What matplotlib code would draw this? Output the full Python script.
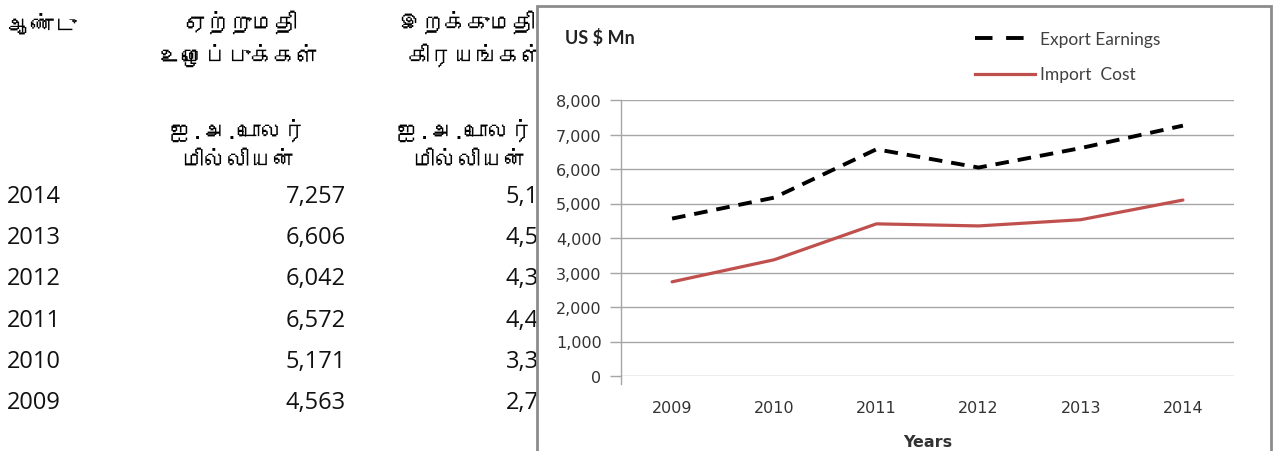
import matplotlib
matplotlib.use("Agg")
import matplotlib.pyplot as plt
from matplotlib import font_manager as fm
from matplotlib.ft2font import FT2Font
from matplotlib.patches import Rectangle
from matplotlib.lines import Line2D
from matplotlib.transforms import Bbox, TransformedBbox

# ---------------- data ----------------
years = [2009, 2010, 2011, 2012, 2013, 2014]
export_earnings = [4563, 5171, 6572, 6042, 6606, 7257]
import_cost = [2730, 3370, 4410, 4350, 4530, 5100]

table_years = ["2014", "2013", "2012", "2011", "2010", "2009"]
table_export = ["7,257", "6,606", "6,042", "6,572", "5,171", "4,563"]
table_import = ["5,100", "4,530", "4,350", "4,410", "3,370", "2,730"]

hdr_year = "ஆண்டு"
hdr_exp = ["ஏற்றுமதி", "உழைப்புக்கள்"]
hdr_imp = ["இறக்குமதிச்", "கிரயங்கள்"]
hdr_unit = ["ஐ.அ.டொலர்", "மில்லியன்"]

series_labels = ["Export Earnings", "Import  Cost"]
y_ticks = [0, 1000, 2000, 3000, 4000, 5000, 6000, 7000, 8000]

# ---------------- find a Tamil-capable font ----------------
tamil_family = None
for f in fm.fontManager.ttflist:
    try:
        cm = FT2Font(f.fname).get_charmap()
        if 0x0B86 in cm and 0x0BA4 in cm:
            tamil_family = f.name
            break
    except Exception:
        pass
tamil_fonts = ([tamil_family] if tamil_family else []) + ["DejaVu Sans"]

W, H = 1283, 452
fig = plt.figure(figsize=(W / 100, H / 100), dpi=100)

def fx(x):
    return x / W

def fy(y):
    return 1 - y / H

# background axes for the table
bg = fig.add_axes([0, 0, 1, 1], zorder=0)
bg.set_xlim(0, W)
bg.set_ylim(H, 0)
bg.axis("off")
clip_table = TransformedBbox(Bbox([[0, 0], [537, H]]), bg.transData)

def clipped(t):
    t.set_clip_on(True)
    t.set_clip_box(clip_table)
    return t

hfs = 16.5
bg.text(8, 25, hdr_year, family=tamil_fonts, fontsize=hfs, fontweight="bold",
        ha="left", va="center")
for i, t in enumerate(hdr_exp):
    bg.text(240, 22 + 33 * i, t, family=tamil_fonts, fontsize=hfs, fontweight="bold",
            ha="center", va="center")
imp_x = [398, 408]
for i, t in enumerate(hdr_imp):
    clipped(bg.text(imp_x[i], 22 + 33 * i, t, family=tamil_fonts, fontsize=hfs,
                    fontweight="bold", ha="left", va="center"))
unit_x3 = [397, 412]
for i, t in enumerate(hdr_unit):
    bg.text(238, 130 + 31 * i, t, family=tamil_fonts, fontsize=hfs, fontweight="bold",
            ha="center", va="center")
    clipped(bg.text(unit_x3[i], 130 + 31 * i, t, family=tamil_fonts, fontsize=hfs,
                    fontweight="bold", ha="left", va="center"))

row_y0, row_dy = 197, 41.2
nfs = 17
for i in range(len(table_years)):
    yy = row_y0 + row_dy * i
    bg.text(7, yy, table_years[i], fontsize=nfs, family="Open Sans",
            ha="left", va="center", color="#111111")
    bg.text(346, yy, table_export[i], fontsize=nfs, family="Open Sans",
            ha="right", va="center", color="#111111")
    clipped(bg.text(566, yy, table_import[i], fontsize=nfs, family="Open Sans",
                    ha="right", va="center", color="#111111"))

# chart panel covering the table
bg.add_patch(Rectangle((537, 7), 734, 460, facecolor="white", edgecolor="#8c8c8c",
                       linewidth=2, zorder=10, clip_on=False))

# ---------------- chart ----------------
left, right = 621, 1234
top, bottom = 101, 377
ax = fig.add_axes([fx(left), fy(bottom), fx(right - left), (bottom - top) / H], zorder=1)
ax.set_facecolor("none")
x = list(range(len(years)))
ax.plot(x, export_earnings, color="black", lw=2.8, dashes=(3.5, 2.3),
        dash_capstyle="butt")
ax.plot(x, import_cost, color="#C0504D", lw=2.3, solid_capstyle="round")
ax.set_xlim(-0.5, len(years) - 0.5)
ax.set_ylim(0, 8000)
ax.set_yticks(y_ticks)
ax.set_yticklabels([f"{v:,}" for v in y_ticks])
ax.set_xticks(x)
ax.set_xticklabels([str(y) for y in years])
ax.grid(axis="y", color="#a6a6a6", lw=1)
ax.set_axisbelow(True)
for s in ["top", "right", "bottom"]:
    ax.spines[s].set_visible(False)
ax.spines["left"].set_color("#a6a6a6")
ax.spines["left"].set_linewidth(1)
ax.tick_params(axis="y", length=8, color="#a6a6a6", width=1, pad=6,
               labelsize=11.5, labelcolor="#333333")
ax.tick_params(axis="x", length=0, pad=17, labelsize=11.5, labelcolor="#333333")
# left axis continues slightly below zero
ax.plot([-0.5, -0.5], [0, -230], color="#a6a6a6", lw=1, clip_on=False)
ax.set_xlabel("Years", fontsize=11.5, fontweight="bold", color="#333333", labelpad=14)

# title-ish label and legend
fig.text(fx(565), fy(38), "US $ Mn", fontsize=13, fontweight="bold", family="Lato",
         ha="left", va="center", color="#222222")
fig.add_artist(Line2D([fx(975), fx(1024)], [fy(39), fy(39)], color="black", lw=2.8,
                      dashes=(4.5, 3.5), dash_capstyle="butt"))
fig.add_artist(Line2D([fx(975), fx(1035)], [fy(75), fy(75)], color="#C0504D", lw=2.3))
fig.text(fx(1040), fy(40), series_labels[0], fontsize=12.5, family="Lato",
         ha="left", va="center", color="#404040")
fig.text(fx(1040), fy(75), series_labels[1], fontsize=12.5, family="Lato",
         ha="left", va="center", color="#404040")

fig.savefig("out.png", dpi=100)
